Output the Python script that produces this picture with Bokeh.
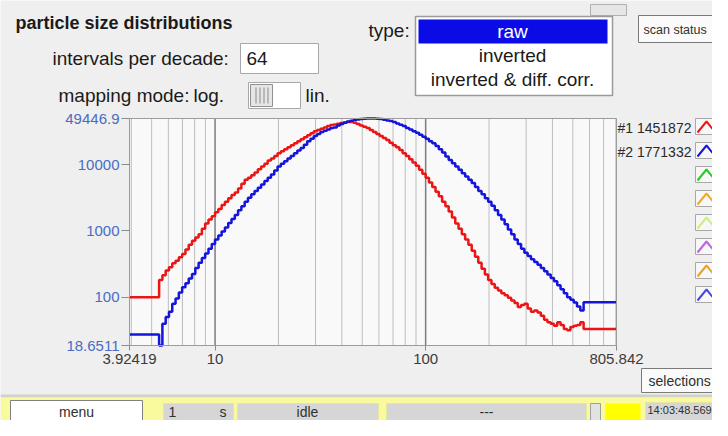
import numpy as np
from bokeh.plotting import figure
from bokeh.models import FixedTicker, Range1d, LogScale, LogAxis
from bokeh.core.properties import value
from bokeh.embed import file_html
from bokeh.resources import INLINE

# ---------------- data ----------------
intervals_per_decade = 64
d_min, d_max = 3.92419, 805.842
y_min, y_max = 18.6511, 49446.9

x_tick_values = [3.92419, 10, 100, 805.842]
x_tick_labels = ["3.92419", "10", "100", "805.842"]
y_tick_values = [18.6511, 100, 1000, 10000, 49446.9]
y_tick_labels = ["18.6511", "100", "1000", "10000", "49446.9"]
minor_grid = [4, 5, 6, 7, 8, 9, 20, 30, 40, 50, 60, 70, 80, 90,
              200, 300, 400, 500, 600, 700, 800]
major_grid = [10, 100]

series_names = ["#1 1451872", "#2 1771332"]
series_colors = ["#EC1515", "#1414DC"]
slot_colors = ["#EC1515", "#1414DC", "#22CC22", "#F0AA22",
               "#CDEE77", "#C060E0", "#F0A020", "#4848E0"]

# log10 of the counts in each of the size bins (64 bins per decade)
red_log10 = [
    2.00, 2.00, 2.00, 2.00, 2.00, 2.00, 2.00, 2.00, 2.00,
    2.26, 2.33, 2.40, 2.45, 2.51, 2.55, 2.60, 2.65, 2.72, 2.79,
    2.85, 2.90, 2.95, 3.03, 3.11, 3.17, 3.22, 3.28, 3.33, 3.39,
    3.44, 3.49, 3.54, 3.58, 3.64, 3.71, 3.77, 3.80, 3.84, 3.88,
    3.93, 3.97, 4.01, 4.06, 4.09, 4.13, 4.17, 4.20, 4.23, 4.26,
    4.29, 4.32, 4.35, 4.38, 4.41, 4.44, 4.47, 4.50, 4.52, 4.54,
    4.56, 4.58, 4.595, 4.605, 4.615, 4.625, 4.635, 4.64, 4.64, 4.63,
    4.61, 4.59, 4.57, 4.55, 4.52, 4.49, 4.46, 4.43, 4.40, 4.37,
    4.33, 4.29, 4.26, 4.22, 4.17, 4.13, 4.08, 4.03, 3.98, 3.92,
    3.86, 3.80, 3.73, 3.66, 3.59, 3.52, 3.44, 3.37, 3.29, 3.20,
    3.11, 3.03, 2.95, 2.87, 2.79, 2.70, 2.61, 2.52, 2.43, 2.34,
    2.26, 2.20, 2.14, 2.10, 2.06, 2.03, 1.99, 1.95, 1.91, 1.85,
    1.88, 1.90, 1.83, 1.78, 1.80, 1.77, 1.72, 1.66, 1.62, 1.60,
    1.57, 1.62, 1.58, 1.52, 1.50, 1.55, 1.57, 1.58, 1.62,
    1.52, 1.52, 1.52, 1.52, 1.52, 1.52, 1.52, 1.52, 1.52, 1.52,
]
blue_log10 = [
    1.437, 1.437, 1.437, 1.437, 1.437, 1.437, 1.437, 1.437, 1.437,
    1.2708, 1.60, 1.70, 1.78, 1.90, 1.98, 2.07, 2.15, 2.21, 2.28,
    2.35, 2.44, 2.52, 2.59, 2.66, 2.73, 2.80, 2.87, 2.93, 2.99,
    3.05, 3.12, 3.18, 3.24, 3.31, 3.37, 3.44, 3.50, 3.55, 3.60,
    3.65, 3.70, 3.75, 3.80, 3.85, 3.91, 3.97, 4.01, 4.05, 4.09,
    4.13, 4.17, 4.21, 4.25, 4.30, 4.35, 4.39, 4.43, 4.46, 4.49,
    4.51, 4.53, 4.55, 4.56, 4.59, 4.61, 4.63, 4.65, 4.66, 4.67,
    4.68, 4.685, 4.69, 4.6941, 4.6941, 4.6941, 4.69, 4.685, 4.675, 4.665,
    4.655, 4.64, 4.62, 4.60, 4.58, 4.55, 4.53, 4.50, 4.48, 4.45,
    4.42, 4.39, 4.35, 4.32, 4.28, 4.23, 4.18, 4.12, 4.07, 4.02,
    3.97, 3.92, 3.87, 3.82, 3.77, 3.72, 3.66, 3.60, 3.55, 3.49,
    3.44, 3.38, 3.31, 3.24, 3.17, 3.10, 3.02, 2.95, 2.87, 2.80,
    2.73, 2.67, 2.62, 2.57, 2.53, 2.49, 2.44, 2.39, 2.34, 2.29,
    2.24, 2.18, 2.12, 2.06, 2.00, 1.96, 1.92, 1.86, 1.80,
    1.924, 1.924, 1.924, 1.924, 1.924, 1.924, 1.924, 1.924, 1.924, 1.924,
]

# ---------------- layout of the panel (canvas pixels) ----------------
W, H = 712, 420
CL, CR, CT, CB = 129, 616, 118, 345  # chart area on the canvas

p = figure(width=W, height=H, output_backend="svg", toolbar_location=None,
           x_axis_location=None, y_axis_location=None, min_border=0,
           x_range=Range1d(0, W), y_range=Range1d(H, 0))
p.background_fill_color = "#EFEFEF"
p.border_fill_color = "#EFEFEF"
p.outline_line_color = None
p.xgrid.visible = False
p.ygrid.visible = False

# log ranges placed so that the chart sits in its panel area
kx = (np.log10(d_max) - np.log10(d_min)) / (CR - CL)
ky = (np.log10(y_max) - np.log10(y_min)) / (CB - CT)
p.extra_x_ranges = {"d": Range1d(10 ** (np.log10(d_min) - CL * kx),
                                 10 ** (np.log10(d_max) + (W - CR) * kx))}
p.extra_y_ranges = {"c": Range1d(10 ** (np.log10(y_min) - (H - CB) * ky),
                                 10 ** (np.log10(y_max) + CT * ky))}
p.extra_x_scales = {"d": LogScale()}
p.extra_y_scales = {"c": LogScale()}
C = dict(x_range_name="d", y_range_name="c")

FONT = "Liberation Sans"

# chart background, grid, curves, outline
p.quad(left=[d_min], right=[d_max], bottom=[y_min], top=[y_max],
       fill_color="#F9F9F9", line_color=None, **C)
p.segment(x0=minor_grid, x1=minor_grid, y0=[y_min] * len(minor_grid),
          y1=[y_max] * len(minor_grid), line_color="#BDBDBD", line_width=1, **C)
p.segment(x0=major_grid, x1=major_grid, y0=[y_min] * len(major_grid),
          y1=[y_max] * len(major_grid), line_color="#7C7C7C", line_width=1.5, **C)

edges = d_min * 10 ** (np.arange(len(red_log10) + 1) / intervals_per_decade)
for vals, col in ((red_log10, series_colors[0]), (blue_log10, series_colors[1])):
    yv = list(10 ** np.array(vals)) + [10 ** vals[-1]]
    p.step(edges, yv, mode="after", line_color=col, line_width=2.5, **C)

p.quad(left=[d_min], right=[d_max], bottom=[y_min], top=[y_max],
       fill_color=None, line_color="#9C9C9C", line_width=1, **C)

xax = LogAxis(fixed_location=y_min, **C)
yax = LogAxis(fixed_location=d_min, **C)
for ax, vals, labs, col in ((xax, x_tick_values, x_tick_labels, "#3C3C3C"),
                            (yax, y_tick_values, y_tick_labels, "#4A6CC4")):
    ax.ticker = FixedTicker(ticks=vals, minor_ticks=[])
    ax.major_label_overrides = dict(zip(vals, labs))
    ax.major_label_text_font = FONT
    ax.major_label_text_font_size = "15px"
    ax.major_label_text_color = col
    ax.axis_line_color = None
    ax.major_tick_in = 0
    ax.major_tick_line_color = "#8A8A8A"
    ax.minor_tick_line_color = None
xax.major_tick_out = 5
xax.major_label_standoff = 3
yax.major_tick_out = 8
yax.major_label_standoff = 2
p.add_layout(xax, "below")
p.add_layout(yax, "left")

# ---------------- panel decorations (canvas pixel coordinates) ----------------


def box(x0, y0, x1, y1, fill, line=None, lw=1):
    p.quad(left=[x0], right=[x1], top=[y0], bottom=[y1], fill_color=fill,
           line_color=line, line_width=lw)


def label(x, y, text, size=19, color="#1A1A1A", align="left", bold=False):
    p.text(x=[x], y=[y], text=[text], text_font=value(FONT),
           text_font_size=value(f"{size}px"), text_color=color,
           text_align=align, text_baseline="middle",
           text_font_style="bold" if bold else "normal")


label(15, 22, "particle size distributions", size=18, bold=True)
label(52, 58, "intervals per decade:")
box(240, 43, 318, 73, "#FFFFFF", "#A8A8A8")
label(246, 58, "64")
label(58, 95, "mapping mode:")
label(193, 95, "log.")
label(305, 95, "lin.")
box(248, 82, 300, 108, "#FFFFFF", "#A8A8A8")
box(250, 84, 272, 106, "#E6E6E6", "#909090")
for sxp in (255, 259, 263, 267):
    box(sxp, 87, sxp + 1, 103, "#8A8A8A")

label(368, 30, "type:")
box(590, 4, 626, 15, "#E6E6E6", "#B0B0B0")
box(415, 16, 612, 95, "#FFFFFF", "#9A9A9A", 1.5)
box(418, 19, 607, 43, "#0B0BE8")
label(512, 31, "raw", color="#FFFFFF", align="center")
label(512, 55, "inverted", align="center")
label(512, 79, "inverted & diff. corr.", align="center")

box(638, 15, 730, 42, "#FAFAFA", "#7A7A7A")
label(643, 29, "scan status", size=12.5, color="#303030")

for k, name in enumerate(series_names):
    label(617, 127 + 24 * k, name, size=14, color="#2A2A2A")
for k, col in enumerate(slot_colors):
    y0 = 118 + 24 * k
    box(695, y0, 730, y0 + 16, "#F7F7F7", "#A8A8A8")
    p.line(x=[697, 706, 715], y=[y0 + 14, y0 + 3, y0 + 14], line_color=col, line_width=2)

box(641, 368, 730, 392, "#FAFAFA", "#7A7A7A")
label(648, 380, "selections", size=14, color="#303030")

# status bar
box(0, 394, 730, 397, "#D2D2C8")
box(0, 397, 730, 430, "#F9F99E")
box(10, 400, 142, 430, "#FFFFFF", "#808080")
label(76, 411, "menu", size=14, color="#303030", align="center")
box(163, 403, 233, 430, "#D6D6D6", "#E6E6A0")
label(168, 411, "1", size=14, color="#303030")
label(219, 411, "s", size=14, color="#303030")
box(237, 403, 378, 430, "#D6D6D6", "#E6E6A0")
label(307, 411, "idle", size=14, color="#303030", align="center")
box(386, 403, 586, 430, "#D6D6D6", "#E6E6A0")
label(486, 411, "---", size=14, color="#303030", align="center")
box(590, 403, 600, 430, "#E2E2E2", "#A0A0A0")
box(605, 403, 640, 430, "#FFFF00")
box(645, 402, 730, 430, "#D6D6D6", "#E6E6A0")
label(647, 409, "14:03:48.569", size=11, color="#303030")

open("out.html", "w").write(file_html(p, INLINE))
